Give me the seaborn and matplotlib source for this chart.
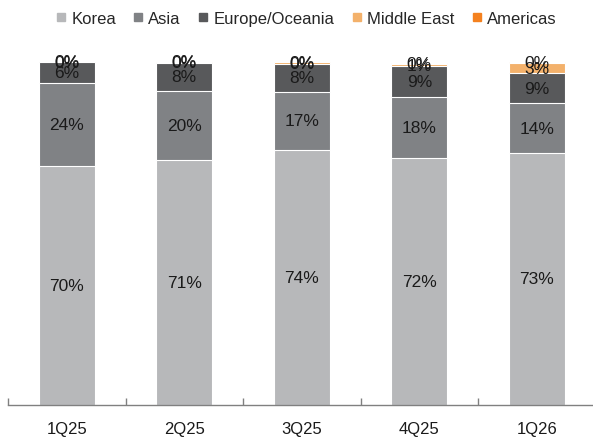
import numpy as np
import pandas as pd
import matplotlib
matplotlib.use("Agg")
import matplotlib.pyplot as plt
from matplotlib.lines import Line2D
import seaborn as sns

# Revenue mix by region, % of total
quarters = ["1Q25", "2Q25", "3Q25", "4Q25", "1Q26"]
korea = [69.6, 71.4, 74.2, 72.0, 73.4]
asia = [24.2, 20.0, 17.0, 17.6, 14.4]
europe_oceania = [6.0, 8.2, 8.1, 9.0, 8.9]
middle_east = [0.1, 0.3, 0.45, 0.7, 2.8]
americas = [0.1, 0.1, 0.15, 0.4, 0.3]

regions = ["Korea", "Asia", "Europe/Oceania", "Middle East", "Americas"]
series = [korea, asia, europe_oceania, middle_east, americas]
colors = ["#B7B8BA", "#808285", "#58595B", "#F3B16B", "#F4811F"]

sns.set_theme(style="white")
plt.rcParams["font.family"] = ["Liberation Sans", "DejaVu Sans"]

fig = plt.figure(figsize=(5.93, 4.39), dpi=100)
ax = fig.add_axes([8 / 593, 33.5 / 439, 587.5 / 593, 343 / 439])

values = np.array(series)
cum = np.cumsum(values, axis=0)

# Stack by overlaying cumulative totals, tallest first
for k in range(len(regions) - 1, -1, -1):
    df = pd.DataFrame({"quarter": quarters, "value": cum[k]})
    sns.barplot(data=df, x="quarter", y="value", order=quarters, color=colors[k],
                saturation=1, width=0.48, edgecolor="white", linewidth=0.8,
                errorbar=None, ax=ax)

# Segment labels at the middle of each segment
for k in range(len(regions)):
    for i in range(len(quarters)):
        v = values[k, i]
        y = cum[k, i] - v / 2
        ax.text(i, y, f"{v:.0f}%", ha="center", va="center", fontsize=12.5,
                color="#1a1a1a", clip_on=False)

ax.set_xlim(-0.5, 4.5)
ax.set_ylim(0, 100)
ax.set_xlabel("")
ax.set_ylabel("")
ax.set_yticks([])
for side in ["left", "right", "top"]:
    ax.spines[side].set_visible(False)
ax.spines["bottom"].set_color("#808080")
ax.spines["bottom"].set_linewidth(1.0)

ax.set_xticks(range(len(quarters)))
ax.set_xticklabels(quarters, fontsize=12, color="#1a1a1a")
ax.tick_params(axis="x", which="major", length=0, pad=12)
ax.set_xticks(np.arange(-0.5, 5.0, 1.0), minor=True)
ax.tick_params(axis="x", which="minor", direction="in", length=5, width=1.0,
               color="#808080", bottom=True)

handles = [Line2D([0], [0], marker="s", linestyle="none", markersize=5.5,
                  markerfacecolor=c, markeredgecolor=c) for c in colors]
fig.legend(handles, regions, loc="center", bbox_to_anchor=(0.515, 0.955), ncol=5,
           frameon=False, fontsize=12, handletextpad=0.2, columnspacing=0.95,
           handlelength=0.8)

fig.savefig("out.png", dpi=100)
